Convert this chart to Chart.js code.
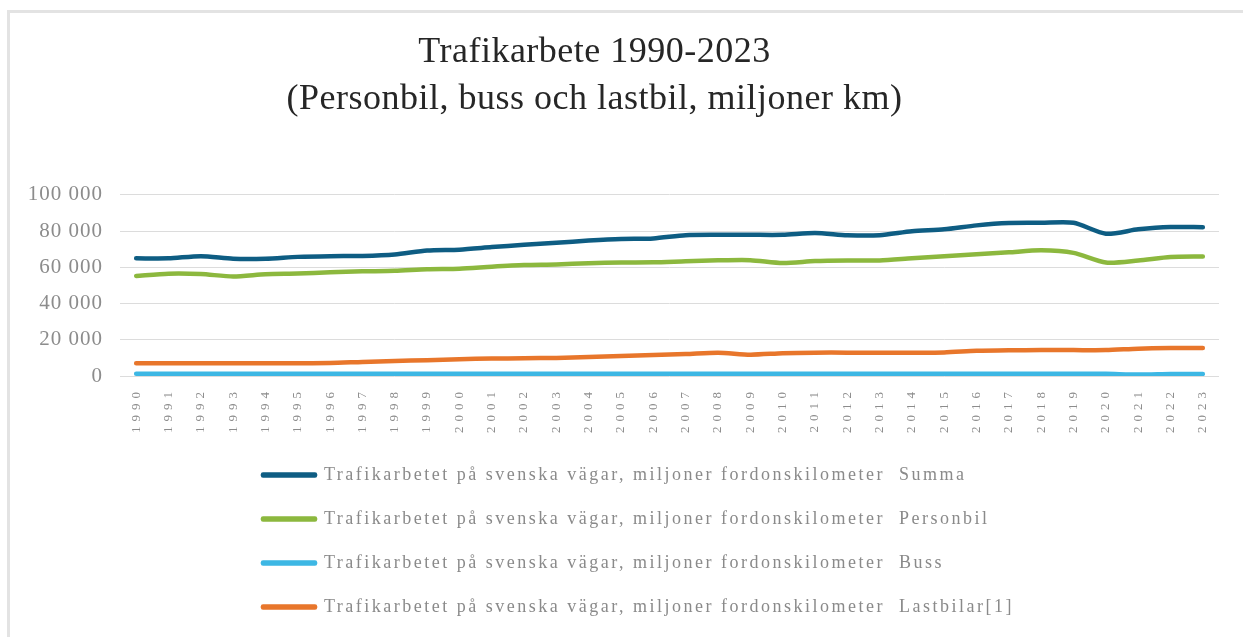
<!DOCTYPE html>
<html>
<head>
<meta charset="utf-8">
<script src="https://cdn.jsdelivr.net/npm/chart.js@4"></script>
<style>
  html, body { margin: 0; padding: 0; background: #fff; overflow: hidden; }
  #frame { position: absolute; left: 7px; top: 10px; width: 1400px; height: 800px;
           border-left: 3px solid #e3e3e3; border-top: 3px solid #e3e3e3; }
  #trafik { position: absolute; left: 0; top: 0; }
</style>
</head>
<body>
<div id="frame"></div>
<canvas id="trafik" width="1243" height="637"></canvas>
<script>
// years on the x axis
const years = ['1990', '1991', '1992', '1993', '1994', '1995', '1996', '1997', '1998', '1999',
  '2000', '2001', '2002', '2003', '2004', '2005', '2006', '2007', '2008', '2009',
  '2010', '2011', '2012', '2013', '2014', '2015', '2016', '2017', '2018', '2019',
  '2020', '2021', '2022', '2023'];

// miljoner fordonskilometer
const summa = [65000, 65000, 66200, 64800, 64800, 65800, 66200, 66300, 67100, 69300,
  69800, 71200, 72500, 73600, 74800, 75700, 76000, 77800, 78000, 78000,
  78000, 79000, 77800, 77800, 80000, 81000, 83200, 84500, 84600, 84600,
  78600, 81000, 82300, 82200];
const personbil = [55300, 56500, 56300, 55000, 56200, 56600, 57300, 57800, 58100, 59000,
  59300, 60400, 61300, 61600, 62300, 62700, 62800, 63400, 63900, 64000,
  62400, 63500, 63800, 63800, 65000, 66100, 67200, 68300, 69400, 68000,
  62700, 63800, 65700, 66000];
const buss = [1300, 1300, 1300, 1300, 1300, 1300, 1300, 1300, 1300, 1300,
  1300, 1300, 1300, 1300, 1300, 1300, 1300, 1300, 1300, 1300,
  1300, 1300, 1300, 1300, 1300, 1300, 1300, 1300, 1300, 1300,
  1200, 800, 1100, 1150];
const lastbilar = [7100, 7100, 7100, 7100, 7100, 7100, 7200, 7800, 8300, 8700,
  9300, 9600, 9800, 10000, 10500, 11000, 11600, 12100, 12900, 11800,
  12600, 12900, 12900, 12900, 12900, 13000, 13900, 14200, 14300, 14300,
  14300, 15100, 15400, 15400];

const prefix = 'Trafikarbetet på svenska vägar, miljoner fordonskilometer  ';
const seriesNames = ['Summa', 'Personbil', 'Buss', 'Lastbilar[1]'];
const seriesColors = ['#0e5d83', '#8cb83e', '#3db7e4', '#e8762b'];
const titleLines = ['Trafikarbete 1990-2023', '(Personbil, buss och lastbil, miljoner km)'];

const serif = "'Liberation Serif', 'Times New Roman', serif";

// the source chart spreads its letters out; give each part its own spacing
const spacing = { x: '5px', y: '1px', legend: '2.5px', title: '0.5px' };
const spacingPlugin = {
  id: 'spacing',
  beforeLayout(chart) {
    const parts = {
      x: [chart.scales.x, ['update', 'drawLabels']],
      y: [chart.scales.y, ['update', 'drawLabels']],
      legend: [chart.legend, ['update', 'draw']],
      title: [chart.titleBlock, ['update', 'draw']]
    };
    Object.entries(parts).forEach(([key, [part, names]]) => {
      if (!part || part._spaced) return;
      part._spaced = true;
      names.forEach(name => {
        const orig = part[name];
        part[name] = function (...args) {
          const ctx = chart.ctx;
          ctx.save();
          ctx.letterSpacing = spacing[key];
          if (name === 'draw' && key === 'title') ctx.translate(-15, 0);
          if (name === 'draw' && key === 'legend') ctx.translate(263 - this.left - this.options.labels.padding, 0);
          const res = orig.apply(this, args);
          ctx.restore();
          return res;
        };
      });
    });
  }
};

const values = [summa, personbil, buss, lastbilar];
const datasets = seriesNames.map((name, i) => ({
  label: prefix + name,
  data: values[i],
  borderColor: seriesColors[i],
  backgroundColor: seriesColors[i],
  borderWidth: 4.5,
  borderCapStyle: 'round',
  borderJoinStyle: 'round',
  pointRadius: 0,
  tension: 0.25,
  fill: false
}));

const fmt = v => String(v).replace(/\B(?=(\d{3})+(?!\d))/g, ' ');

new Chart(document.getElementById('trafik'), {
  type: 'line',
  data: { labels: years, datasets },
  plugins: [spacingPlugin],
  options: {
    responsive: false,
    animation: false,
    layout: { padding: { left: 0, right: 24, top: 0, bottom: 11 } },
    plugins: {
      title: {
        display: true,
        text: titleLines,
        color: '#262626',
        font: { family: serif, size: 36, weight: 'normal', lineHeight: 1.305 },
        padding: { top: 29, bottom: 72 }
      },
      legend: {
        position: 'bottom',
        align: 'start',
        fullSize: false,
        labels: {
          color: '#8a8a8a',
          font: { family: serif, size: 18 },
          boxWidth: 52,
          boxHeight: 1,
          padding: 26
        }
      },
      tooltip: { enabled: false }
    },
    scales: {
      x: {
        offset: true,
        grid: { display: false },
        border: { display: false },
        ticks: {
          color: '#8c8c8c',
          font: { family: serif, size: 13 },
          minRotation: 90,
          maxRotation: 90,
          autoSkip: false,
          padding: 3
        },
        afterFit: s => { s.height = 64; }
      },
      y: {
        min: 0,
        max: 100000,
        grid: { color: '#dcdcdc', lineWidth: 1, drawTicks: false },
        border: { display: false },
        ticks: {
          stepSize: 20000,
          color: '#8c8c8c',
          font: { family: serif, size: 21 },
          padding: 17,
          callback: v => fmt(v)
        },
        afterFit: s => { s.width = 120; }
      }
    }
  }
});
</script>
</body>
</html>
